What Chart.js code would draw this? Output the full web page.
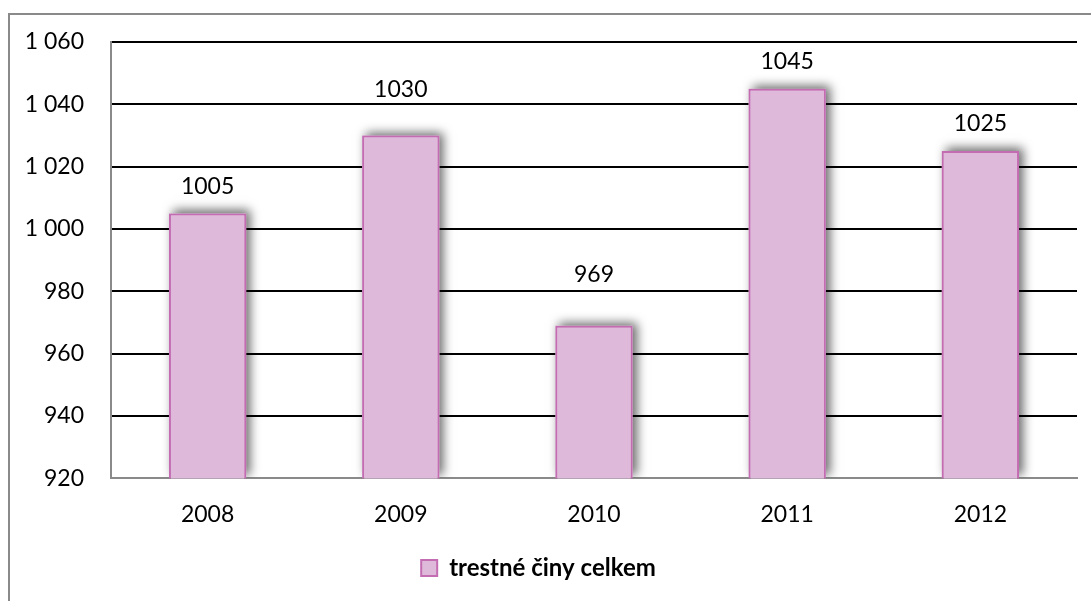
<!DOCTYPE html>
<html>
<head>
<meta charset="utf-8">
<script src="https://cdn.jsdelivr.net/npm/chart.js@4"></script>
<style>
  html, body { margin: 0; padding: 0; background: #fff; }
  #frame {
    position: absolute; left: 8px; top: 13px; width: 1083px; height: 600px;
    border-left: 2px solid #8a8a8a; border-top: 2px solid #8a8a8a;
    box-sizing: border-box;
  }
  #wrap { position: absolute; left: 0; top: 0; width: 1091px; height: 601px; }
</style>
</head>
<body>
<div id="frame"></div>
<div id="wrap"><canvas id="chart" width="1091" height="601"></canvas></div>
<script>
document.addEventListener("DOMContentLoaded", function(){

  let labelsYear = ["2008", "2009", "2010", "2011", "2012"];
  let dataCrimes = [1005, 1030, 969, 1045, 1025];
  let seriesName = "trestné činy celkem";

  const fontFamily = "Lato";
  const fontSize = 23;

  // labels were moved by hand in the original, distance above bar top (px)
  const labelLift = [27, 46, 51, 27, 28];

  // format 1060 -> "1 060"
  function spaceFormat(value) {
    return String(value).replace(/\B(?=(\d{3})+(?!\d))/g, " ");
  }

  // keep grid lines from running past the x axis on the right
  const clipRight = {
    id: "clipRight",
    beforeDraw(chart) {
      const ctx = chart.ctx;
      ctx.save();
      ctx.beginPath();
      ctx.rect(0, 0, chart.scales.x.right + 1, chart.height);
      ctx.clip();
    },
    afterDraw(chart) {
      chart.ctx.restore();
    }
  };

  // shadow behind bars (bar element clips itself, so paint a shadowed rect first)
  const barShadow = {
    id: "barShadow",
    beforeDatasetsDraw(chart) {
      const ctx = chart.ctx;
      const area = chart.chartArea;
      const meta = chart.getDatasetMeta(0);
      ctx.save();
      ctx.beginPath();
      ctx.rect(area.left, area.top - 20, area.right - area.left, area.bottom - area.top + 19);
      ctx.clip();
      ctx.shadowColor = "rgba(0,0,0,0.6)";
      ctx.shadowBlur = 10;
      ctx.shadowOffsetX = 4;
      ctx.shadowOffsetY = -3;
      ctx.fillStyle = "#dfb9da";
      meta.data.forEach((bar) => {
        const p = bar.getProps(["x", "y", "width"], true);
        ctx.fillRect(p.x - p.width / 2, p.y, p.width, area.bottom - p.y);
      });
      ctx.restore();
    }
  };

  // value labels above bars
  const valueLabels = {
    id: "valueLabels",
    afterDatasetsDraw(chart) {
      const ctx = chart.ctx;
      const meta = chart.getDatasetMeta(0);
      ctx.save();
      ctx.font = fontSize + "px " + fontFamily;
      ctx.fillStyle = "#000";
      ctx.textAlign = "center";
      ctx.textBaseline = "middle";
      meta.data.forEach((bar, index) => {
        ctx.fillText(String(dataCrimes[index]), bar.x, bar.y - labelLift[index]);
      });
      ctx.restore();
    }
  };

  const ctxCrimes = document.getElementById("chart").getContext("2d");

  const crimesChart = new Chart(ctxCrimes, {
    type: "bar",
    data: {
      labels: labelsYear,
      datasets: [
        {
          label: seriesName,
          data: dataCrimes,
          backgroundColor: "#dfb9da",
          borderColor: "#c36cb2",
          borderWidth: 2,
          borderSkipped: false,
          barPercentage: 0.4,
          categoryPercentage: 1.0,
        },
      ],
    },
    options: {
      responsive: false,
      animation: false,
      layout: {
        padding: { left: 0, right: 14, top: 42, bottom: 11 },
      },
      scales: {
        y: {
          min: 920,
          max: 1060,
          ticks: {
            stepSize: 20,
            padding: 27,
            color: "#000",
            font: { family: fontFamily, size: fontSize },
            callback: function (value) {
              return spaceFormat(value);
            },
          },
          grid: {
            color: function (c) {
              return c.tick && c.tick.value === 920 ? "#8a8a8a" : "#000";
            },
            lineWidth: 2,
            drawTicks: false,
          },
          border: { color: "#8a8a8a", width: 2 },
          afterFit: function (scale) {
            scale.width = 111;
          },
        },
        x: {
          ticks: {
            padding: 22,
            color: "#000",
            font: { family: fontFamily, size: fontSize },
          },
          grid: { display: false, drawTicks: false },
          border: { color: "#8a8a8a", width: 2 },
        },
      },
      plugins: {
        legend: {
          position: "bottom",
          labels: {
            color: "#000",
            font: { family: fontFamily, size: 24, weight: "bold" },
            boxWidth: 16,
            boxHeight: 16,
            padding: 6,
          },
        },
        tooltip: { enabled: false },
      },
    },
    plugins: [clipRight, barShadow, valueLabels],
  });

});
</script>
</body>
</html>
